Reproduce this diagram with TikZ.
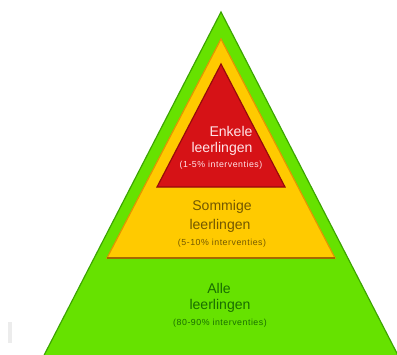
\documentclass[tikz,border=0pt]{standalone}
\usepackage{fontspec}
\setmainfont{Liberation Sans}
\definecolor{mygreen}{RGB}{102,226,0}
\definecolor{mydarkgreen}{RGB}{60,165,0}
\definecolor{myyellow}{RGB}{255,202,0}
\definecolor{myorange}{RGB}{225,150,0}
\definecolor{mybrown}{RGB}{165,105,0}
\definecolor{myred}{RGB}{214,18,22}
\definecolor{mydarkred}{RGB}{150,10,10}
\definecolor{greentext}{RGB}{25,110,0}
\definecolor{yellowtext}{RGB}{115,88,0}
\definecolor{redtext}{RGB}{255,228,232}

\begin{document}
\begin{tikzpicture}[x=0.03cm,y=-0.03cm,
    big/.style={font=\fontsize{12}{13}\selectfont},
    small/.style={font=\fontsize{7.5}{8}\selectfont\addfontfeature{LetterSpace=6}}]
    \useasboundingbox (0,0) rectangle (397,354);
    \clip (0,0) rectangle (397,354);
    \fill[white] (0,0) rectangle (397,354);
    \fill[gray!15] (8,322) rectangle (12,343);
    % the three layers
    \draw[fill=mygreen, draw=mydarkgreen, line width=1pt] (221,12) -- (39,365) -- (403,365) -- cycle;
    \draw[fill=myyellow, draw=myorange, line width=1pt] (221,39) -- (107,258) -- (335,258) -- cycle;
    \draw[mybrown, line width=1.5pt] (107,258) -- (335,258);
    \draw[fill=myred, draw=mydarkred, line width=1pt] (221,64) -- (157,187) -- (285,187) -- cycle;
    % labels
    \node[big, text=redtext] (enkele) at (231,131) {Enkele};
    \node[big, text=redtext] (enkeleleer) at (222,149) {leerlingen};
    \node[small, text=redtext] (enkeleproc) at (221,165) {(1-5\% interventies)};
    \node[big, text=yellowtext] (sommige) at (222,207) {Sommige};
    \node[big, text=yellowtext] (sommigeleer) at (220,226) {leerlingen};
    \node[small, text=yellowtext] (sommigeproc) at (222,243) {(5-10\% interventies)};
    \node[big, text=greentext] (alle) at (219,288) {Alle};
    \node[big, text=greentext] (alleleer) at (220,306) {leerlingen};
    \node[small, text=greentext] (alleproc) at (220,323) {(80-90\% interventies)};
\end{tikzpicture}
\end{document}
